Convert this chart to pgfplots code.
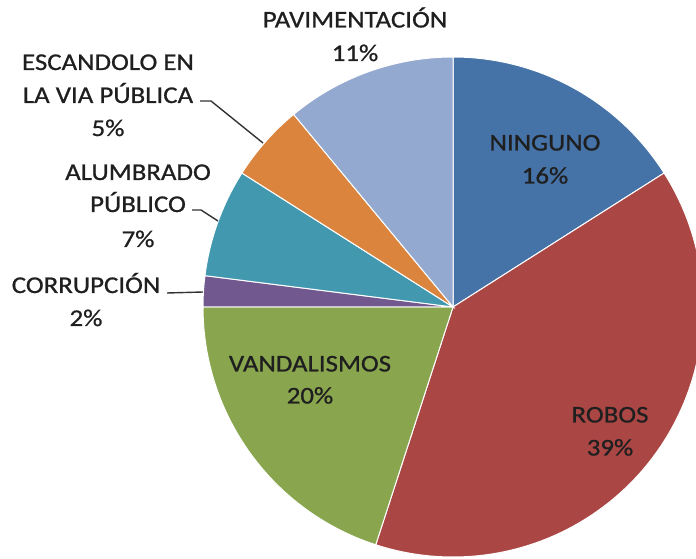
\documentclass[border=0pt]{standalone}
\usepackage{pgfplots}
\pgfplotsset{compat=1.18}
\usepackage{pgfplotstable}
\usepackage{fontspec}
\setmainfont{Carlito}[FakeStretch=1.12,FakeBold=0.8]
\definecolor{cNin}{HTML}{4572A7}
\definecolor{cRob}{HTML}{AA4643}
\definecolor{cVan}{HTML}{89A54E}
\definecolor{cCor}{HTML}{71588F}
\definecolor{cAlu}{HTML}{4198AF}
\definecolor{cEsc}{HTML}{DB843D}
\definecolor{cPav}{HTML}{93A9CF}
\definecolor{txt}{HTML}{1F1F1F}
\pgfplotstableread[col sep=comma]{
name,value,color
Ninguno,16,cNin
Robos,39,cRob
Vandalismos,20,cVan
Corrupcion,2,cCor
Alumbrado,7,cAlu
Escandolo,5,cEsc
Pavimentacion,11,cPav
}\piedata
\begin{document}
\begin{tikzpicture}
\useasboundingbox (0,0) rectangle (696bp,559bp);
\clip (0,0) rectangle (696bp,559bp);
\begin{axis}[at={(0,0)},anchor=south west,width=696bp,height=559bp,scale only axis,
  xmin=0,xmax=696,ymin=0,ymax=559,hide axis,clip=false]
\pgfplotstablegetrowsof{\piedata}
\pgfmathtruncatemacro\N{\pgfplotsretval-1}
\def\angstart{90}
\pgfplotsforeachungrouped \i in {0,...,\N}{%
  \pgfplotstablegetelem{\i}{value}\of\piedata \let\v\pgfplotsretval
  \pgfplotstablegetelem{\i}{color}\of\piedata \let\c\pgfplotsretval
  \pgfmathsetmacro\angend{\angstart-3.6*\v}
  \edef\temp{\noexpand\fill[\c,draw=white,line width=1bp] (axis cs:453,252) -- ++(\angstart:250bp) arc[start angle=\angstart,end angle=\angend,radius=250bp] -- cycle;}
  \temp
  \global\let\angstart\angend
}
% leader lines
\draw[black!80,line width=1.4bp] (axis cs:200,458) -- (axis cs:211,458) -- (axis cs:263,416);
\draw[black!80,line width=1.4bp] (axis cs:192,349) -- (axis cs:201,349) -- (axis cs:218,338);
\draw[black!80,line width=1.4bp] (axis cs:167,266) -- (axis cs:203,267);
% labels
\tikzset{lab/.style={anchor=base,text=txt,font=\fontsize{24bp}{28bp}\selectfont,inner sep=0pt}}
\node[lab] at (axis cs:355,531.5) {PAVIMENTACIÓN};
\node[lab] at (axis cs:355,498) {11\%};
\node[lab] at (axis cs:108,489) {ESCANDOLO EN};
\node[lab] at (axis cs:108,456) {LA VIA PÚBLICA};
\node[lab] at (axis cs:108,423) {5\%};
\node[lab] at (axis cs:138,379) {ALUMBRADO};
\node[lab] at (axis cs:138,347) {PÚBLICO};
\node[lab] at (axis cs:138,312) {7\%};
\node[lab] at (axis cs:86,266) {CORRUPCIÓN};
\node[lab] at (axis cs:86,233) {2\%};
\node[lab] at (axis cs:310,187.5) {VANDALISMOS};
\node[lab] at (axis cs:310,155.5) {20\%};
\node[lab] at (axis cs:545,408.5) {NINGUNO};
\node[lab] at (axis cs:545,375.5) {16\%};
\node[lab] at (axis cs:610,136.5) {ROBOS};
\node[lab] at (axis cs:610,103.5) {39\%};
\end{axis}
\end{tikzpicture}
\end{document}
